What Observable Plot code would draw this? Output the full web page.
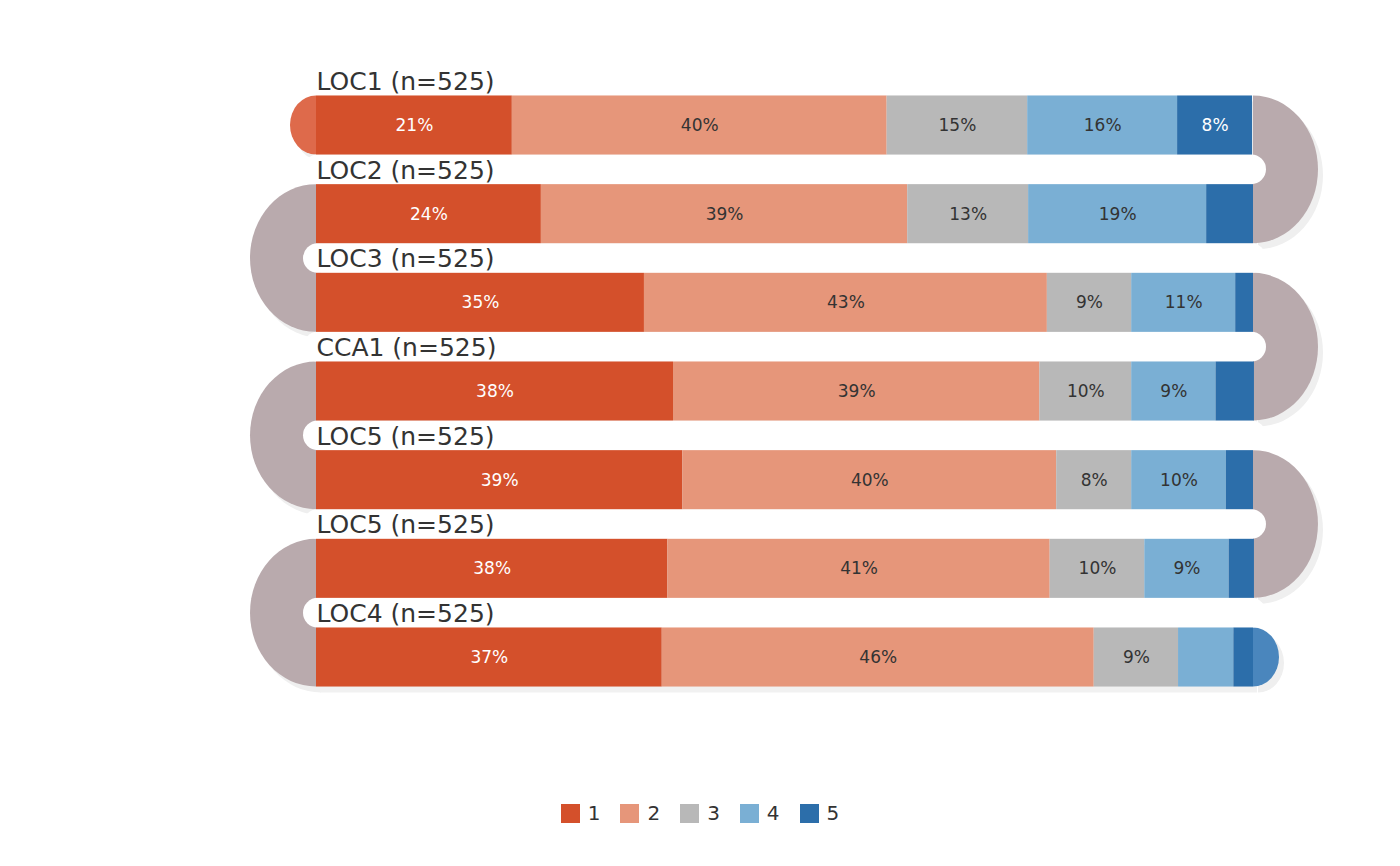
<!DOCTYPE html>
<html><head><meta charset="utf-8">
<script src="https://cdn.jsdelivr.net/npm/d3@7"></script>
<script src="https://cdn.jsdelivr.net/npm/@observablehq/plot@0.6"></script>
<style>
body{margin:0;background:#fff;font-family:"DejaVu Sans",sans-serif;}
#wrap{position:relative;width:1400px;height:866px;}
#legend{position:absolute;top:801px;left:0;width:1400px;display:flex;justify-content:center;gap:20px;font-size:20px;color:#333;}
#legend span{display:flex;align-items:center;gap:8px;}
#legend i{display:inline-block;width:19px;height:19px;}
</style></head><body>
<div id="wrap"><div id="chart"></div><div id="legend"></div></div>
<script>
const categories = ["LOC1","LOC2","LOC3","CCA1","LOC5","LOC5","LOC4"];
const nLabels = [525,525,525,525,525,525,525];
const levels = ["1","2","3","4","5"];
const s1 = [20.9,24.0,35.0,38.1,39.1,37.5,36.9];
const s2 = [40.0,39.1,43.0,39.1,39.9,40.8,46.1];
const s3 = [15.0,12.9,9.0,9.8,8.0,10.1,9.0];
const s4 = [16.0,19.0,11.1,9.0,10.1,9.0,5.9];
const s5 = [8.0,5.0,1.9,4.1,2.9,2.7,2.1];
const colors = ["#D4502B","#E6967A","#B8B8B8","#7AAFD4","#2C6EAA"];
const connColor = "#B9AAAD";

const series=[s1,s2,s3,s4,s5];
const rows=[];
categories.forEach((c,i)=>{
  let acc=0;
  series.forEach((s,k)=>{
    rows.push({row:i,level:levels[k],x1:acc,x2:acc+s[i],v:s[i]});
    acc+=s[i];
  });
});
const H=0.333;

function deco(index, scales, values, dims){
  const x=scales.x, y=scales.y;
  const g=d3.create("svg:g");
  const x0=x(0), xe=x(100);
  const half=(y(1)-y(0))*H;
  const n=categories.length;
  const shapes=[];
  for(let i=0;i<n-1;i++){
    const top=y(i)-half, bot=y(i+1)+half, ry=(bot-top)/2;
    if(i%2===0) shapes.push({d:`M${xe},${top}A65,${ry} 0 0 1 ${xe},${bot}Z`,f:connColor});
    else shapes.push({d:`M${x0},${top}A66,${ry} 0 0 0 ${x0},${bot}Z`,f:connColor});
  }
  shapes.push({d:`M${x0},${y(0)-half}A26,${half} 0 0 0 ${x0},${y(0)+half}Z`,f:"#DE6A4B"});
  shapes.push({d:`M${xe},${y(n-1)-half}A26,${half} 0 0 1 ${xe},${y(n-1)+half}Z`,f:"#4A86BD"});
  // shadows
  shapes.forEach(s=>g.append("path").attr("d",s.d).attr("fill","#efefef").attr("transform","translate(5,6)"));
  for(let i=0;i<n;i++) g.append("rect").attr("x",x0+4).attr("y",y(i)-half+6).attr("width",xe-x0).attr("height",2*half).attr("fill","#f1f1f1");
  shapes.forEach(s=>g.append("path").attr("d",s.d).attr("fill",s.f));
  for(let i=0;i<n-1;i++){
    const t=y(i)+half, b=y(i+1)-half;
    g.append("rect").attr("x",x0-13).attr("y",t).attr("width",xe-x0+26).attr("height",b-t).attr("rx",(b-t)/2).attr("fill","#fff");
  }
  return g.node();
}

const chart=Plot.plot({
  width:1400,height:866,marginLeft:316,marginRight:147,marginTop:0,marginBottom:0,
  x:{domain:[0,100],axis:null},
  y:{domain:[0,6],range:[125,657],axis:null},
  style:{fontFamily:"DejaVu Sans, sans-serif",background:"#fff"},
  marks:[
    deco,
    Plot.rect(rows,{x1:"x1",x2:"x2",y1:d=>d.row-H,y2:d=>d.row+H,fill:d=>colors[levels.indexOf(d.level)]}),
    Plot.text(rows.filter(d=>d.v>=7.5),{x:d=>(d.x1+d.x2)/2,y:"row",text:d=>Math.round(d.v)+"%",fontSize:17,
      fill:d=>(d.level==="1"||d.level==="5")?"#fff":"#333"}),
    Plot.text(categories.map((c,i)=>({c,i})),{x:0,y:d=>d.i-0.49,text:d=>`${d.c} (n=${nLabels[d.i]})`,textAnchor:"start",fontSize:25,fill:"#333"})
  ]
});
document.getElementById("chart").append(chart);
const lg=document.getElementById("legend");
levels.forEach((l,k)=>{const s=document.createElement("span");s.innerHTML=`<i style="background:${colors[k]}"></i>${l}`;lg.append(s);});
</script></body></html>
